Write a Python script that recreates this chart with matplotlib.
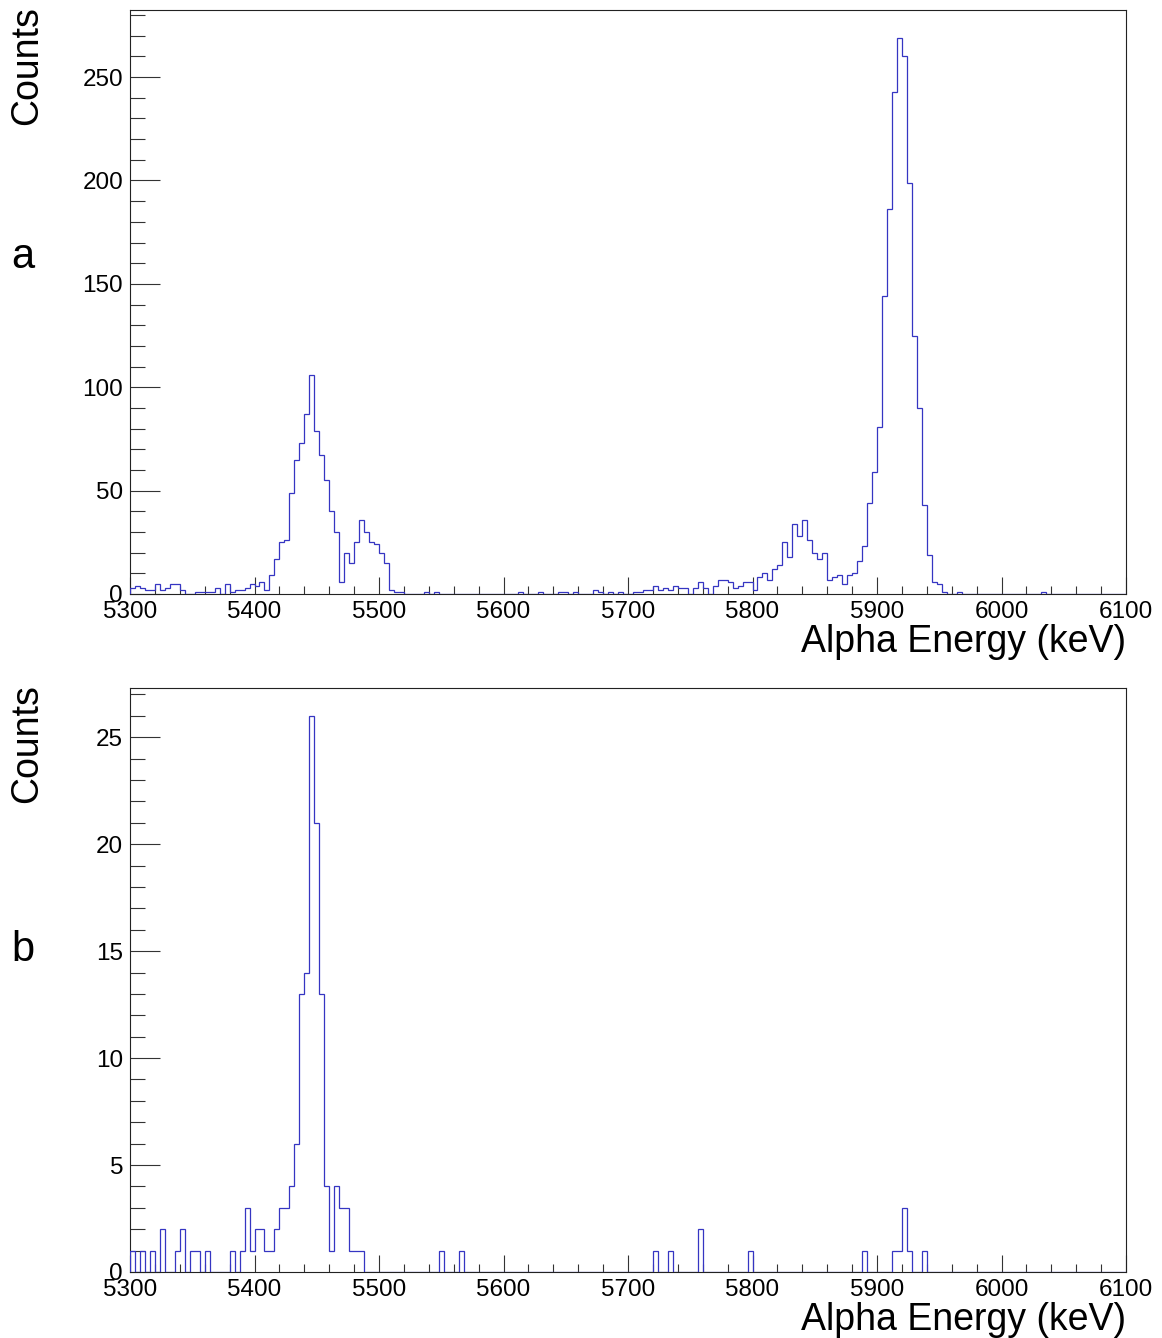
import numpy as np
import matplotlib
matplotlib.use("Agg")
import matplotlib.pyplot as plt
from matplotlib.ticker import MultipleLocator

plt.rcParams['font.family'] = ['Liberation Sans', 'DejaVu Sans']

# 4 keV bins from 5300 to 6100 keV
e_min, e_max, n_bins = 5300, 6100, 200
edges = np.linspace(e_min, e_max, n_bins + 1)

# spectrum a: counts per bin
counts_a = [
    3, 4, 3, 2, 2, 5, 2, 3, 5, 5, 2, 0, 0, 1, 1, 1, 1, 3, 0, 5,
    1, 2, 2, 3, 5, 4, 6, 2, 9, 17, 25, 26, 49, 65, 73, 87, 106, 79, 67, 55,
    40, 30, 6, 20, 15, 25, 36, 30, 25, 24, 20, 15, 2, 1, 1, 0, 0, 0, 0, 1,
    0, 1, 0, 0, 0, 0, 0, 0, 0, 0, 0, 0, 0, 0, 0, 0, 0, 0, 1, 0,
    0, 0, 1, 0, 0, 0, 1, 1, 0, 1, 0, 0, 0, 2, 1, 0, 1, 0, 1, 0,
    0, 1, 1, 2, 2, 4, 2, 3, 2, 4, 3, 3, 0, 3, 6, 3, 0, 4, 7, 7,
    6, 3, 4, 6, 6, 2, 8, 10, 7, 12, 14, 25, 18, 34, 28, 36, 26, 20, 17, 20,
    7, 8, 9, 5, 9, 10, 16, 23, 44, 59, 81, 144, 186, 243, 269, 260, 199, 125, 90, 43,
    19, 6, 5, 1, 0, 0, 1, 0, 0, 0, 0, 0, 0, 0, 0, 0, 0, 0, 0, 0,
    0, 0, 0, 1, 0, 0, 0, 0, 0, 0, 0, 0, 0, 0, 0, 0, 0, 0, 0, 0,
]

# spectrum b: counts per bin
counts_b = [
    1, 0, 1, 0, 1, 0, 2, 0, 0, 1, 2, 0, 1, 1, 0, 1, 0, 0, 0, 0,
    1, 0, 1, 3, 1, 2, 2, 1, 1, 2, 3, 3, 4, 6, 13, 14, 26, 21, 13, 4,
    1, 4, 3, 3, 1, 1, 1, 0, 0, 0, 0, 0, 0, 0, 0, 0, 0, 0, 0, 0,
    0, 0, 1, 0, 0, 0, 1, 0, 0, 0, 0, 0, 0, 0, 0, 0, 0, 0, 0, 0,
    0, 0, 0, 0, 0, 0, 0, 0, 0, 0, 0, 0, 0, 0, 0, 0, 0, 0, 0, 0,
    0, 0, 0, 0, 0, 1, 0, 0, 1, 0, 0, 0, 0, 0, 2, 0, 0, 0, 0, 0,
    0, 0, 0, 0, 1, 0, 0, 0, 0, 0, 0, 0, 0, 0, 0, 0, 0, 0, 0, 0,
    0, 0, 0, 0, 0, 0, 0, 1, 0, 0, 0, 0, 0, 1, 1, 3, 1, 0, 0, 1,
    0, 0, 0, 0, 0, 0, 0, 0, 0, 0, 0, 0, 0, 0, 0, 0, 0, 0, 0, 0,
    0, 0, 0, 0, 0, 0, 0, 0, 0, 0, 0, 0, 0, 0, 0, 0, 0, 0, 0, 0,
]

panel_labels = ['a', 'b']
x_title = 'Alpha Energy (keV)'
y_title = 'Counts'
x_ticks = [5300, 5400, 5500, 5600, 5700, 5800, 5900, 6000, 6100]
y_major = [50, 5]
y_minor = [10, 1]

W, H = 1162, 1338
fig = plt.figure(figsize=(W / 100, H / 100), dpi=100)

line_col = '#3535c2'
# frame positions in pixels: (top, bottom)
frames = [(10, 594), (688, 1272)]
title_base = [652, 1330]
letter_y = [257, 950]

for k, counts in enumerate([counts_a, counts_b]):
    top, bot = frames[k]
    ax = fig.add_axes([130 / W, 1 - bot / H, 996 / W, (bot - top) / H])
    ax.stairs(counts, edges, color=line_col, lw=0.9, baseline=0, zorder=3)
    ax.set_xlim(e_min, e_max)
    ax.set_ylim(0, 1.05 * max(counts))

    ax.set_xticks(x_ticks)
    ax.xaxis.set_minor_locator(MultipleLocator(20))
    ax.yaxis.set_major_locator(MultipleLocator(y_major[k]))
    ax.yaxis.set_minor_locator(MultipleLocator(y_minor[k]))

    ax.tick_params(axis='both', which='both', direction='in', top=False,
                   right=False, labelsize=17.5, color='#333333', width=0.8)
    ax.tick_params(axis='x', which='major', length=12.5, pad=5)
    ax.tick_params(axis='x', which='minor', length=6)
    ax.tick_params(axis='y', which='major', length=21.5, pad=5)
    ax.tick_params(axis='y', which='minor', length=10.8)
    for s in ax.spines.values():
        s.set_linewidth(0.8)
        s.set_color('#222222')

    fig.text(1126 / W, 1 - title_base[k] / H, x_title, ha='right',
             va='baseline', fontsize=27)
    fig.text(27 / W, 1 - (top - 4) / H, y_title, rotation=90, ha='center',
             va='top', fontsize=27)
    fig.text(23 / W, 1 - letter_y[k] / H, panel_labels[k], ha='center',
             va='center', fontsize=30)

fig.savefig('out.png', dpi=100)
